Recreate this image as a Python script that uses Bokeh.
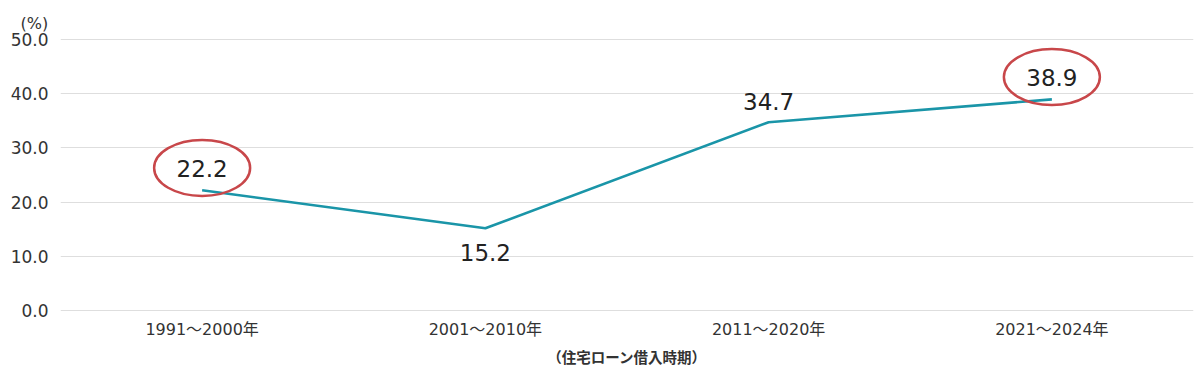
from bokeh.plotting import figure
from bokeh.models import ColumnDataSource, NumeralTickFormatter, FixedTicker
from bokeh.core.properties import value
from bokeh.embed import file_html
from bokeh.resources import INLINE

periods = ["1991～2000年", "2001～2010年", "2011～2020年", "2021～2024年"]
rates = [22.2, 15.2, 34.7, 38.9]
label_text = ["22.2", "15.2", "34.7", "38.9"]
label_offset = [-22, 24, -21, -22]
highlighted = [True, False, False, True]

y_ticks = [0, 10, 20, 30, 40, 50]

src = ColumnDataSource(dict(x=periods, y=rates, t=label_text, off=label_offset))

p = figure(x_range=periods, y_range=(-0.1, 50.1), width=1195, height=373,
           output_backend="svg", toolbar_location=None,
           min_border_left=60, min_border_right=2, min_border_top=38, min_border_bottom=62,
           title="(%)")
p.outline_line_color = None
p.background_fill_color = "white"
p.border_fill_color = "white"

p.title.align = "left"
p.title.offset = -40
p.title.standoff = 12
p.title.text_font = "DejaVu Sans"
p.title.text_font_size = "16px"
p.title.text_font_style = "normal"
p.title.text_color = "#333333"

p.line("x", "y", source=src, line_color="#1a95a8", line_width=2.6)

p.text("x", "y", text="t", source=src, y_offset="off", text_align="center", text_baseline="middle",
       text_font=value("DejaVu Sans"), text_font_size="23px", text_color="#222222")

hx = [c for c, h in zip(periods, highlighted) if h]
hy = [v + 4.1 for v, h in zip(rates, highlighted) if h]
p.ellipse(x=hx, y=hy, width=96, height=56, width_units="screen", height_units="screen",
          fill_color=None, line_color="#c8474a", line_width=2.5)

p.yaxis.ticker = FixedTicker(ticks=y_ticks)
p.yaxis.formatter = NumeralTickFormatter(format="0.0")
p.yaxis.axis_line_color = None
p.yaxis.major_tick_line_color = None
p.yaxis.minor_tick_line_color = None
p.yaxis.major_label_text_font = "DejaVu Sans"
p.yaxis.major_label_text_font_size = "17px"
p.yaxis.major_label_text_color = "#333333"
p.yaxis.major_label_standoff = 6

p.xaxis.axis_line_color = None
p.xaxis.major_tick_line_color = None
p.xaxis.major_label_text_font = "DejaVu Sans, Noto Sans CJK JP"
p.xaxis.major_label_text_font_size = "16px"
p.xaxis.major_label_text_color = "#333333"
p.xaxis.major_label_standoff = 2
p.xaxis.axis_label = "（住宅ローン借入時期）"
p.xaxis.axis_label_text_font = "Noto Sans CJK JP"
p.xaxis.axis_label_text_font_size = "14.5px"
p.xaxis.axis_label_text_font_style = "bold"
p.xaxis.axis_label_text_color = "#333333"
p.xaxis.axis_label_standoff = 4

p.xgrid.grid_line_color = None
p.ygrid.grid_line_color = "#dedede"
p.ygrid.grid_line_width = 1

open("out.html", "w").write(file_html(p, INLINE))
